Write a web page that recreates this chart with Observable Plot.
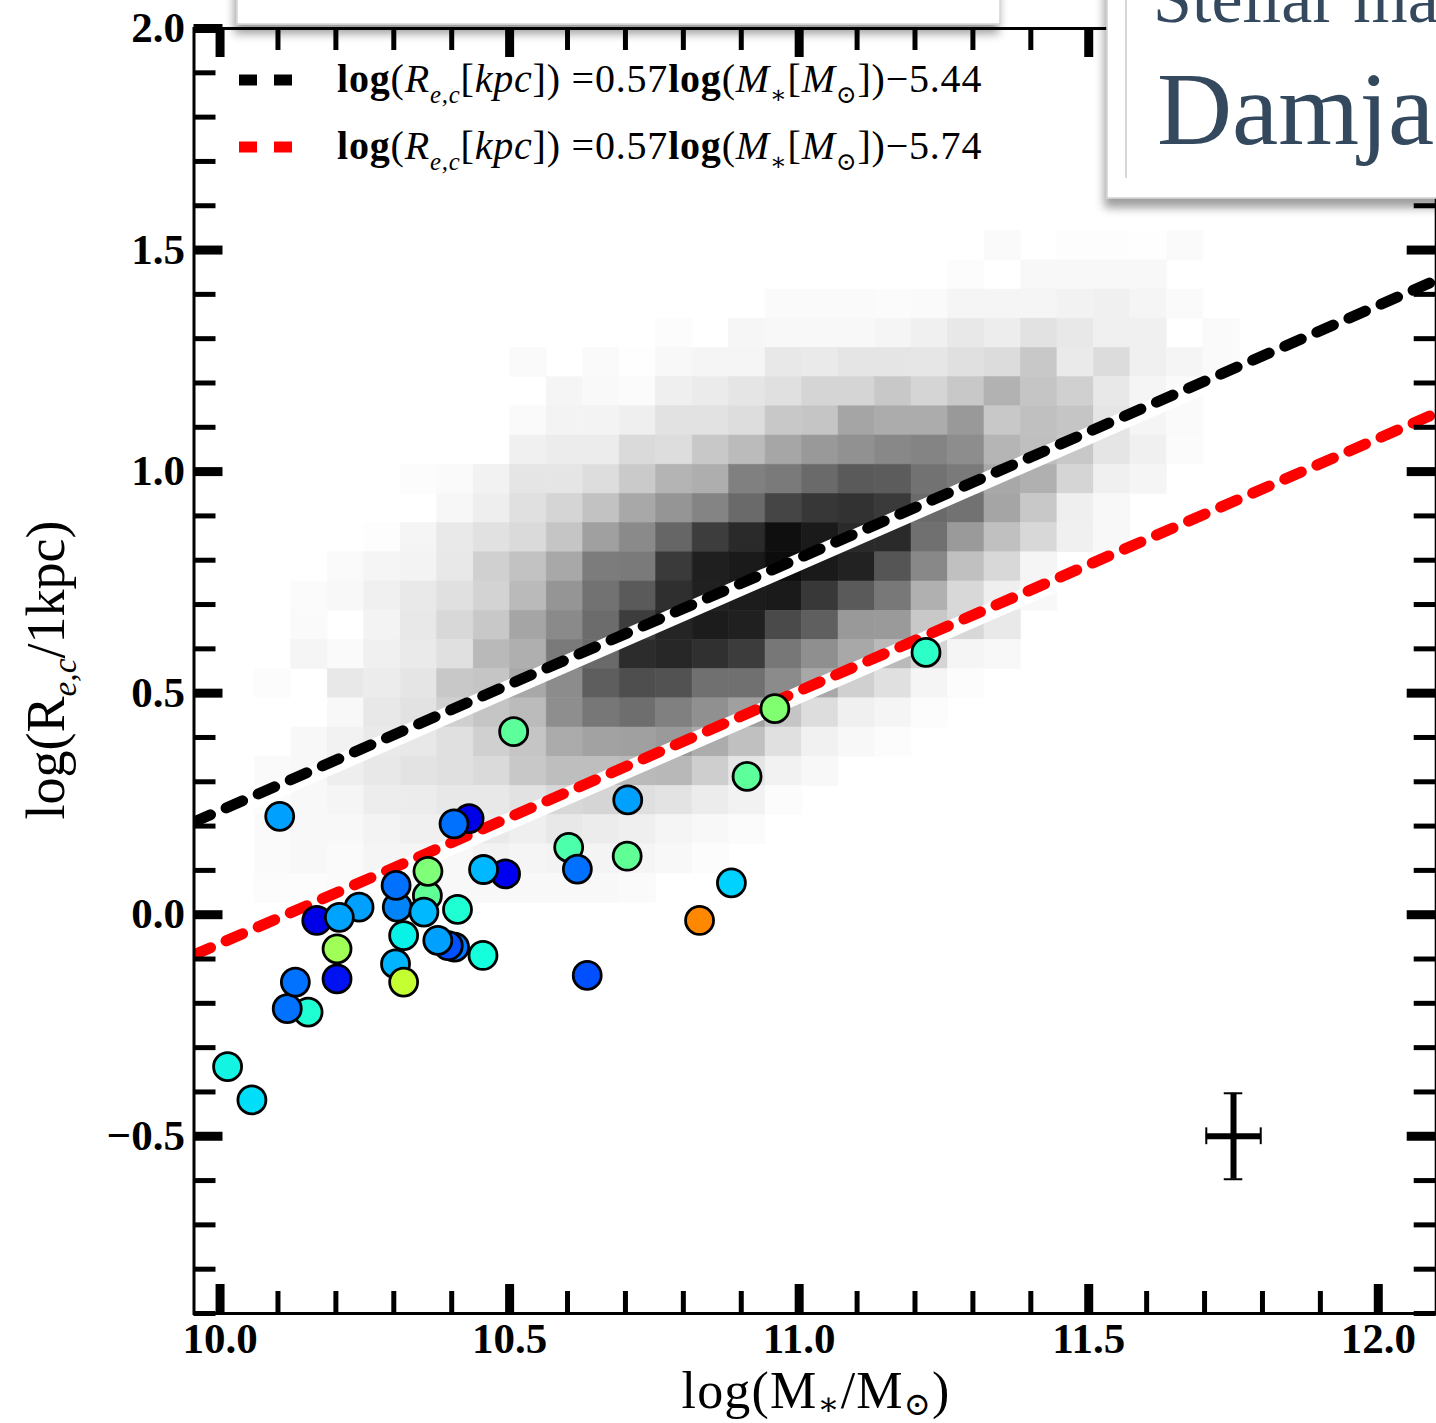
<!DOCTYPE html>
<html><head><meta charset="utf-8">
<script src="https://cdn.jsdelivr.net/npm/d3@7"></script>
<script src="https://cdn.jsdelivr.net/npm/@observablehq/plot@0.6"></script>
<style>
html,body{margin:0;padding:0;background:#fff;overflow:hidden;}
#wrap{position:relative;width:1436px;height:1423px;overflow:hidden;}
#chart{position:absolute;left:0;top:0;width:1440px;}
#overlay{position:absolute;left:0;top:0;pointer-events:none;}
</style></head><body>
<div id="wrap"><div id="chart"></div>
<svg id="overlay" width="1436" height="1423">
  <defs>
    <filter id="sh" x="-10%" y="-20%" width="120%" height="160%">
      <feDropShadow dx="-2" dy="9" stdDeviation="5" flood-color="#000" flood-opacity="0.38"/>
    </filter>
  </defs>
  <rect x="237" y="-40" width="763" height="64" fill="#fff" stroke="#d4d4d4" stroke-width="1.5" filter="url(#sh)"/>
  <rect x="1107" y="-40" width="380" height="238" fill="#fff" stroke="#d0d0d0" stroke-width="1.5" filter="url(#sh)"/>
  <line x1="1126" x2="1126" y1="0" y2="178" stroke="#c8c8c8" stroke-width="1.5"/>
  <text x="1153" y="22" font-size="70" fill="#34495E" font-family="Liberation Serif, serif">Stellar ma</text>
  <text x="1157" y="144" font-size="104" fill="#34495E" font-family="Liberation Serif, serif">Damja</text>
</svg>
</div>
<script>
// ---------- data ----------
const xTickMajor = [10.0, 10.5, 11.0, 11.5, 12.0];
const xTickMinor = [10.1,10.2,10.3,10.4,10.6,10.7,10.8,10.9,11.1,11.2,11.3,11.4,11.6,11.7,11.8,11.9];
const yTickMajor = [-0.5, 0.0, 0.5, 1.0, 1.5, 2.0];
const yTickMinor = [-0.9,-0.8,-0.7,-0.6,-0.4,-0.3,-0.2,-0.1,0.1,0.2,0.3,0.4,0.6,0.7,0.8,0.9,1.1,1.2,1.3,1.4,1.6,1.7,1.8,1.9];

// galaxies (drawn in this order)
const galaxyLogM = [10.013,10.055,10.103,10.152,10.116,10.130,10.202,10.202,10.240,10.167,10.206,10.303,10.317,10.358,10.359,10.306,10.304,10.352,10.317,10.410,10.405,10.394,10.376,10.454,10.430,10.404,10.493,10.455,10.507,10.602,10.617,10.634,10.704,10.703,10.828,10.883,10.910,10.958,11.219];
const galaxyLogRe = [-0.343,-0.418,0.222,-0.220,-0.212,-0.152,-0.145,-0.077,0.017,-0.013,-0.006,-0.111,-0.152,0.043,0.098,0.017,0.066,0.006,-0.047,0.012,-0.073,-0.070,-0.058,-0.092,0.217,0.205,0.092,0.102,0.413,0.152,0.103,-0.137,0.259,0.132,-0.013,0.072,0.312,0.465,0.592];
const galaxyColor = ["#14F4E2","#00DEFA","#00A0FF","#1EFFD4","#0072FF","#0072FF","#0012F2","#A0FF56","#00A0FF","#0000E8","#00A4FF","#00B4FF","#C4FF32","#60FF96","#80FF78","#0084F8","#0070FF","#00B8FF","#08F2E8","#1EFFD4","#0078FF","#0050FF","#00A0FF","#14FFDC","#0000E8","#0070FF","#0000F0","#00B8FF","#5CFF9A","#4CFFAA","#0070FF","#0050FF","#00A0FF","#60FF96","#FF8800","#00D2FF","#5CFF9A","#80FF70","#2CFFC8"];

// size–mass relations (legend text, and the lines as drawn in the figure)
const fitSlope = 0.57;
const fitLegendIntercept = [-5.44, -5.74];
const fitDrawnIntercept = [-5.465, -5.765];
const fitColor = ["black", "red"];
const fitRange = [9.955, 12.1];

// 2-D histogram of the comparison sample: [row, first column, gray levels (hex)]
const histX0 = 10.06, histDX = 0.063, histY0 = 0.027, histDY = 0.0659;
const histRows = [
  [22, 20, "FA FF FD FD FE FA"],
  [21, 19, "FC FF F8 F8 F8 F8"],
  [20, 14, "FA FA FA FB FA F5 F5 F5 F2 F0 F5 FA"],
  [19, 11, "FC FF F6 F8 F8 F8 F5 F0 E8 ED E2 E8 F0 F0 FF FA"],
  [18, 7,  "FA FF FA FE F8 F5 F5 E8 EA E5 E5 E6 E0 DC C8 EA DC F0 F5 FA"],
  [17, 8,  "F5 F9 FB EF EB E5 E0 D5 D5 C8 D5 C8 B2 C5 D0 E8 F5 FA"],
  [16, 7,  "FA F3 F3 EF E2 E2 DD C8 C5 A5 AC AC 99 C8 C0 C5 E5 F5 FA"],
  [15, 7,  "F0 EC EC DA DD C8 BB A6 99 91 88 84 8D B5 BF C8 E5 F0 FB"],
  [14, 4,  "FC FA F2 E5 E5 DD CA B4 AE 80 7A 6A 5A 5C 72 7A A8 B0 D5 F0 F5"],
  [13, 5,  "F7 EE E0 D5 C2 A8 95 84 6A 45 37 32 3A 6A 72 A5 C8 EF F8"],
  [12, 3,  "FD F5 E9 E1 DA C5 A0 8A 66 3D 2A 0F 1A 2A 2A 70 9A C0 D8 F0 F8"],
  [11, 2,  "FA F5 F3 E8 D0 C2 A8 7C 7A 3A 1F 1A 0C 1A 22 55 88 C0 D8 F5"],
  [10, 1,  "FB F8 F0 E9 E0 D3 BA 95 72 5A 2F 20 1C 1A 38 5A 78 B0 D8 EF F8"],
  [9, 1,   "FA FF F3 E8 D8 C8 A5 8A 6C 3D 25 1C 20 4A 5F 99 9A C8 D8 E9"],
  [8, 1,   "F5 FA F0 EA E0 B9 AF 7A 6A 2C 27 30 3C 77 8F A8 BA D5 F5 F8"],
  [7, 0,   "FC FF E8 EC E5 C8 C5 A8 8C 5E 4E 52 70 70 8B A8 D0 E0 F5 FC"],
  [6, 2,   "F8 E8 E2 D0 C5 BB 8E 77 6E 80 90 A0 C5 DD F0 F5 FC"],
  [5, 1,   "F8 F2 EA E8 E0 D0 C5 AB A2 A0 9A AC C0 E0 F1 F8 FC"],
  [4, 0,   "FA F8 EE E8 E3 E0 DA C8 BE BE BA B8 CE E5 F2 F8"],
  [3, 0,   "FC F8 F5 ED EC E8 E8 E2 D8 D5 DF E3 EC F2 FC"],
  [2, 0,   "FA F8 F8 F3 F0 F0 EA EF E8 EC EF F5 F8 FB"],
  [1, 0,   "FA F8 FA F5 F5 F8 F2 F5 F3 F4 F5 F8 FC"],
  [0, 0,   "FC FC FA FC F8 F8 F8 F8 F8 F8 FA"]
];

// typical uncertainty
const errCenter = {x: 11.75, y: -0.5};
const errHalfX = 0.047, errHalfY = 0.097;
const errCapX = 0.016, errCapY = 0.019;

// ---------- build tables ----------
const histCells = [];
for (const [row, start, s] of histRows) {
  s.split(" ").forEach((h, k) => {
    const g = parseInt(h, 16);
    if (g >= 255) return;
    const col = start + k;
    histCells.push({
      x1: histX0 + col * histDX, x2: histX0 + (col + 1) * histDX,
      y1: histY0 + row * histDY, y2: histY0 + (row + 1) * histDY,
      fill: `rgb(${g},${g},${g})`
    });
  });
}
const galaxies = galaxyLogM.map((m, i) => ({m, r: galaxyLogRe[i], c: galaxyColor[i]}));
const fits = fitDrawnIntercept.map((b, i) => fitRange.map(x => ({x, y: fitSlope * x + b})));

// ---------- plot ----------
const W = 1440, H = 1423, mL = 193.5, mR = 4.3, mT = 28, mB = 110;
const pw = W - mL - mR, ph = H - mT - mB;
const tickFont = {fontSize: 43, fontWeight: "bold", fontFamily: "Liberation Serif, Times New Roman, serif"};

const marks = [
  Plot.rect(histCells, {x1: "x1", x2: "x2", y1: "y1", y2: "y2", fill: "fill", stroke: "fill", strokeWidth: 0.6}),
];
fits.forEach((pts, i) => {
  marks.push(Plot.line(pts, {x: "x", y: "y", stroke: "white", strokeWidth: 17, dx: 1, dy: 3.5, clip: true}));
  marks.push(Plot.line(pts, {x: "x", y: "y", stroke: fitColor[i], strokeWidth: 11, strokeDasharray: "18,17", clip: true}));
});
marks.push(
  Plot.dot(galaxies, {x: "m", y: "r", r: 14, fill: "c", stroke: "black", strokeWidth: 2.8}),
  // error cross
  Plot.ruleY([errCenter], {y: "y", x1: d => d.x - errHalfX, x2: d => d.x + errHalfX, stroke: "black", strokeWidth: 6}),
  Plot.ruleX([errCenter], {x: "x", y1: d => d.y - errHalfY, y2: d => d.y + errHalfY, stroke: "black", strokeWidth: 6}),
  Plot.ruleY([errCenter.y - errHalfY, errCenter.y + errHalfY], {y: d => d, x1: errCenter.x - errCapX, x2: errCenter.x + errCapX, stroke: "black", strokeWidth: 2}),
  Plot.ruleX([errCenter.x - errHalfX, errCenter.x + errHalfX], {x: d => d, y1: errCenter.y - errCapY, y2: errCenter.y + errCapY, stroke: "black", strokeWidth: 2}),
  // inward ticks
  Plot.ruleX(xTickMajor, {stroke: "black", strokeWidth: 9, insetTop: ph - 29}),
  Plot.ruleX(xTickMinor, {stroke: "black", strokeWidth: 5, insetTop: ph - 22}),
  Plot.ruleX(xTickMajor, {stroke: "black", strokeWidth: 9, insetBottom: ph - 29}),
  Plot.ruleX(xTickMinor, {stroke: "black", strokeWidth: 5, insetBottom: ph - 22}),
  Plot.ruleY(yTickMajor, {stroke: "black", strokeWidth: 9, insetRight: pw - 29}),
  Plot.ruleY(yTickMinor, {stroke: "black", strokeWidth: 5, insetRight: pw - 22}),
  Plot.ruleY(yTickMajor, {stroke: "black", strokeWidth: 9, insetLeft: pw - 29}),
  Plot.ruleY(yTickMinor, {stroke: "black", strokeWidth: 5, insetLeft: pw - 22}),
  Plot.frame({stroke: "black", strokeWidth: 3}),
  Plot.axisX({ticks: xTickMajor, tickFormat: d3.format(".1f"), tickSize: 0, tickPadding: 9, label: null, ...tickFont}),
  Plot.axisY({ticks: yTickMajor, tickFormat: d3.format(".1f"), tickSize: 0, tickPadding: 9, label: null, ...tickFont})
);

const chart = Plot.plot({
  width: W, height: H,
  marginLeft: mL, marginRight: mR, marginTop: mT, marginBottom: mB,
  x: {domain: fitRange, label: null},
  y: {domain: [-0.9, 2.0], label: null},
  color: {type: "identity"},
  style: {maxWidth: "none", background: "white", overflow: "visible"},
  marks
});
document.getElementById("chart").appendChild(chart);

// ---------- rich text (legend, axis titles) ----------
const svg = d3.select(chart);
const serif = "Liberation Serif, Times New Roman, DejaVu Serif, serif";
function richText(x, y, size, segs, anchor = "start", sub = 0.25) {
  const t = svg.append("text").attr("x", x).attr("y", y)
    .attr("font-size", size).attr("font-family", serif).attr("fill", "black")
    .attr("text-anchor", anchor);
  let shift = 0;
  for (const s of segs) {
    const ts = t.append("tspan").text(s.t);
    const target = s.sub ? size * sub : 0;
    if (target !== shift) { ts.attr("dy", target - shift); shift = target; }
    if (s.sub) ts.attr("font-size", size * 0.62);
    if (s.b) ts.attr("font-weight", "bold");
    if (s.i) ts.attr("font-style", "italic");
  }
  return t;
}

// legend
const legendY = [80, 147];
fitLegendIntercept.forEach((b, i) => {
  svg.append("line").attr("x1", 239).attr("x2", 293).attr("y1", legendY[i]).attr("y2", legendY[i])
    .attr("stroke", fitColor[i]).attr("stroke-width", 11).attr("stroke-dasharray", "18,17");
  richText(337, legendY[i] + 12, 40, [
    {t: "log", b: 1}, {t: "("}, {t: "R", i: 1}, {t: "e,c", i: 1, sub: 1}, {t: "["}, {t: "kpc", i: 1}, {t: "])"},
    {t: " =0.57"}, {t: "log", b: 1}, {t: "("}, {t: "M", i: 1}, {t: "∗", sub: 1}, {t: "["}, {t: "M", i: 1},
    {t: "⊙", sub: 1}, {t: "])"}, {t: d3.format(".2f")(b)}
  ], "start", 0.28).attr("letter-spacing", 0.8);
});

// axis titles
richText(816, 1408, 52, [{t: "log(M"}, {t: "∗", sub: 1}, {t: "/M"}, {t: "⊙", sub: 1}, {t: ")"}], "middle", 0.13)
  .attr("letter-spacing", 1.2);
richText(64, 670, 54, [{t: "log(R"}, {t: "e,c", i: 1, sub: 1}, {t: "/1kpc)"}], "middle", 0.22)
  .attr("transform", "rotate(-90,64,670)");
</script>
</body></html>
